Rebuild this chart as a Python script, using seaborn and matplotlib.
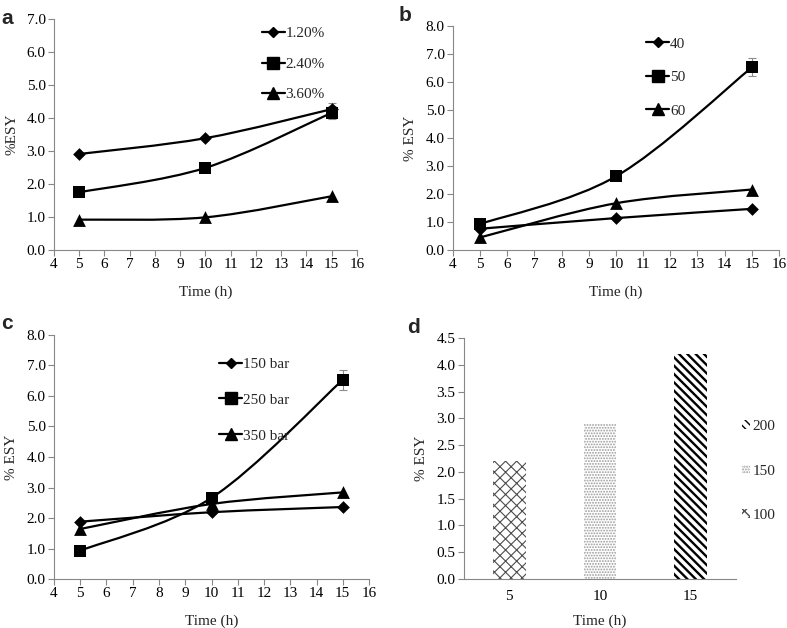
import numpy as np
import pandas as pd
import matplotlib
matplotlib.use('Agg')
import matplotlib.pyplot as plt
import matplotlib.patches as mpatches
from matplotlib.lines import Line2D
from matplotlib.path import Path
import seaborn as sns

# ---------------- data
times = [5, 10, 15]

# panel a: concentration
labels_a = ['1.20%', '2.40%', '3.60%']
esy_a_120 = [2.91, 3.39, 4.27]
esy_a_240 = [1.75, 2.49, 4.16]
esy_a_360 = [0.92, 0.99, 1.63]
err_a = {'1.20%': 0.20, '2.40%': 0.20}

# panel b: temperature
labels_b = ['40', '50', '60']
esy_b_40 = [0.76, 1.14, 1.47]
esy_b_50 = [0.93, 2.63, 6.52]
esy_b_60 = [0.45, 1.67, 2.16]
err_b = {'50': 0.32}

# panel c: pressure
labels_c = ['150 bar', '250 bar', '350 bar']
esy_c_150 = [1.88, 2.19, 2.36]
esy_c_250 = [0.93, 2.66, 6.53]
esy_c_350 = [1.64, 2.46, 2.84]
err_c = {'250 bar': 0.33}

# panel d: bars
times_d = ['5', '10', '15']
labels_d = ['100', '150', '200']
esy_d = [2.2, 2.9, 4.2]

markers = ['D', 's', '^']
msizes = [42, 80, 85]

sns.set_style('white')
plt.rcParams['font.family'] = ['Liberation Serif', 'DejaVu Serif']
plt.rcParams['font.size'] = 11
plt.rcParams['axes.edgecolor'] = '#878787'
plt.rcParams['xtick.color'] = '#878787'
plt.rcParams['ytick.color'] = '#878787'
plt.rcParams['xtick.labelcolor'] = 'black'
plt.rcParams['ytick.labelcolor'] = 'black'


def smooth_path(xs, ys):
    # excel-like smoothed line through the points
    pts = np.column_stack([xs, ys]).astype(float)
    n = len(pts)
    verts = [pts[0]]
    codes = [Path.MOVETO]
    for i in range(n - 1):
        p0 = pts[max(i - 1, 0)]
        p1 = pts[i]
        p2 = pts[i + 1]
        p3 = pts[min(i + 2, n - 1)]
        verts += [p1 + (p2 - p0) / 6, p2 - (p3 - p1) / 6, p2]
        codes += [Path.CURVE4] * 3
    return Path(verts, codes)


def style_axes(ax):
    sns.despine(ax=ax)
    ax.spines['left'].set_linewidth(0.8)
    ax.spines['bottom'].set_linewidth(0.8)
    ax.tick_params(axis='both', direction='out', length=4, width=0.8,
                   labelsize=11, left=True, bottom=True, pad=2)


def line_panel(ax, labels, series, errs, ymax, ylabel, legend_anchor, labelspacing):
    df = pd.DataFrame({
        'Time': np.tile(times, len(labels)),
        'ESY': np.concatenate(series),
        'series': np.repeat(labels, len(times)),
    })
    for lab, ys in zip(labels, series):
        ax.add_patch(mpatches.PathPatch(smooth_path(times, ys), facecolor='none',
                                        edgecolor='black', lw=1.6, zorder=2))
    for lab, e in errs.items():
        ys = series[labels.index(lab)]
        ax.errorbar(times[-1], ys[-1], yerr=e, fmt='none', ecolor='#8c8c8c',
                    elinewidth=0.8, capsize=3, capthick=0.8, zorder=1)
    for lab, m, s in zip(labels, markers, msizes):
        sub = df[df['series'] == lab]
        sns.scatterplot(data=sub, x='Time', y='ESY', marker=m, s=s, color='black',
                        edgecolor='black', linewidth=0, ax=ax, zorder=3, legend=False)
    ax.set_xlim(4, 16)
    ax.set_xticks(range(4, 17))
    ax.set_ylim(0, ymax)
    ax.set_yticks(np.arange(0, ymax + 0.01, 1.0))
    ax.set_yticklabels([f'{v:.1f}' for v in np.arange(0, ymax + 0.01, 1.0)])
    ax.set_xlabel('Time (h)', fontsize=11, labelpad=10)
    ax.set_ylabel(ylabel, fontsize=11, labelpad=6)
    handles = [Line2D([], [], color='black', lw=1.6, marker=m, markersize=ms)
               for m, ms in zip(markers, [5.5, 8, 8])]
    ax.legend(handles, labels, loc='upper left', bbox_to_anchor=legend_anchor,
              frameon=False, handlelength=1.5, handletextpad=0.05,
              labelspacing=labelspacing, borderpad=0, fontsize=11)
    style_axes(ax)


fig = plt.figure(figsize=(7.87, 6.28), dpi=100)
ax_a = fig.add_axes([0.0686, 0.6019, 0.385, 0.3678])
ax_b = fig.add_axes([0.5756, 0.6019, 0.4142, 0.3567])
ax_c = fig.add_axes([0.0686, 0.078, 0.4003, 0.3886])
ax_d = fig.add_axes([0.5896, 0.078, 0.3456, 0.3838])

line_panel(ax_a, labels_a, [esy_a_120, esy_a_240, esy_a_360], err_a, 7.0, '%ESY',
           (0.66, 1.0), 1.1)
line_panel(ax_b, labels_b, [esy_b_40, esy_b_50, esy_b_60], err_b, 8.0, '% ESY',
           (0.57, 0.985), 1.3)
line_panel(ax_c, labels_c, [esy_c_150, esy_c_250, esy_c_350], err_c, 8.0, '% ESY',
           (0.5, 0.94), 1.45)

# panel d
df_d = pd.DataFrame({'Time': times_d, 'ESY': esy_d})
sns.barplot(data=df_d, x='Time', y='ESY', color='white', width=0.36,
            linewidth=0, ax=ax_d)
hatches = ['xxx', '......', '\\\\\\\\']
hcolors = ['#4d4d4d', '#9a9a9a', 'black']
hwidths = [0.8, 0.9, 1.7]
for p, h, c, w in zip(ax_d.patches, hatches, hcolors, hwidths):
    p.set_facecolor('white')
    p.set_edgecolor(c)
    p.set_hatch(h)
    p.set_linewidth(0)
    if hasattr(p, 'set_hatch_linewidth'):
        p.set_hatch_linewidth(w)
ax_d.set_xlim(-0.5, 2.5)
ax_d.set_ylim(0, 4.5)
ax_d.set_yticks(np.arange(0, 4.51, 0.5))
ax_d.set_yticklabels([f'{v:.1f}' for v in np.arange(0, 4.51, 0.5)])
ax_d.set_xlabel('Time (h)', fontsize=11, labelpad=8)
ax_d.set_ylabel('% ESY', fontsize=11, labelpad=6)
style_axes(ax_d)
ax_d.set_xticks([-0.5, 0.5, 1.5, 2.5], minor=True)
ax_d.tick_params(axis='x', which='major', length=0, pad=8)
ax_d.tick_params(axis='x', which='minor', length=4, width=0.8, direction='out')
leg_handles = []
for h, c in zip(hatches[::-1], hcolors[::-1]):
    leg_handles.append(mpatches.Patch(facecolor='white', edgecolor=c, hatch=h, lw=0))
ax_d.legend(leg_handles, labels_d[::-1], loc='center left', bbox_to_anchor=(0.995, 0.448),
            frameon=False, handlelength=0.5, handleheight=0.5, handletextpad=0.15,
            labelspacing=2.05, borderpad=0, fontsize=11)

# panel letters
for lbl, x, y in [('a', 0.002, 0.985), ('b', 0.506, 0.99), ('c', 0.002, 0.5),
                  ('d', 0.517, 0.493)]:
    fig.text(x, y, lbl, fontsize=15, fontweight='bold', family='Liberation Sans',
             va='top', ha='left')

fig.savefig('out.png', dpi=100)
